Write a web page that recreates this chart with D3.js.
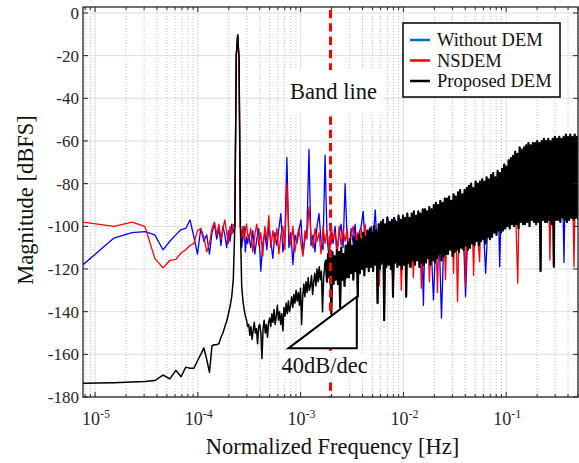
<!DOCTYPE html>
<html>
<head>
<meta charset="utf-8">
<script src="https://cdn.jsdelivr.net/npm/d3@7"></script>
<style>
  body { margin: 0; background: #fff; }
  svg { display: block; }
  text { font-family: "Liberation Serif", "Times New Roman", serif; fill: #262626; }
</style>
</head>
<body>
<div id="chart"></div>
<script>
// ---------- data ----------
const fftLength = 131072;          // bins -> normalized frequency
const bandEdge = 0.001953;         // signal band edge [Hz]
const seriesNames = ["Without DEM", "NSDEM", "Proposed DEM"];

// per-bin values, bins 1..40 (dBFS)
const blueLow = [-118, -105.5, -103, -102.5, -104, -111, -107, -104, -101.5, -101,
  -97, -105, -113, -101, -107, -104, -113, -103, -99, -106,
  -101, -109, -100, -104, -110, -102, -107, -99, -103, -100,
  -20, -10.3, -22, -100, -110, -104, -100, -112, -105, -108];
const redLow = [-98, -100, -98, -100, -115, -119.5, -116, -115.5, -112.5, -111,
  -109, -108, -102, -101, -105, -112, -108, -101, -98, -104,
  -99, -106, -101, -97, -103, -108, -100, -104, -99, -100,
  -20, -10.3, -22, -100, -105, -100, -107, -102, -99, -104];
const blackLow = [-173.6, -173.3, -173, -172.7, -172.3, -169.7, -171.5, -167.5, -170.5, -166,
  -166.5, -166.5, -163, -160, -157, -162.5, -168.5, -156, -155.5, -155.5,
  -155, -152, -150, -147, -144.5, -141, -137.5, -133, -125, -100,
  -20, -10.3, -22, -100, -128, -135, -139, -142, -144, -147];

// values read on a log-spaced frequency grid from bin 41 up to 0.5 (dBFS)
const blueHigh = [-104, -110, -102, -113, -106, -101, -121, -108, -103, -111,
  -100, -107, -115, -103, -109, -101, -94, -112, -105, -67.7,
  -110, -103, -118, -104, -108, -102, -97, -113, -106, -101,
  -64, -109, -104, -112, -100, -94, -107, -111, -66.6, -105,
  -115, -103, -108, -100, -112, -104, -99, -110, -80, -106,
  -113, -101, -108, -99, -114, -103, -100, -93, -109, -102,
  -116, -100, -106, -92.3, -111, -101, -118, -99, -107, -95.5,
  -112, -100, -119, -97, -110, -96, -121, -98, -114, -97,
  -98, -114, -97, -113, -98, -114, -96, -137, -92, -113,
  -95, -112, -134.5, -111, -94, -110, -143, -111, -93, -110,
  -91, -109, -90, -108, -89, -108, -88, -106, -133, -105,
  -85, -104, -84, -104, -83, -103, -82, -102, -122, -101,
  -80, -100, -79, -99, -78, -119, -77, -98, -75, -97,
  -73, -96, -71, -95, -69, -95, -67, -94, -66, -94,
  -64, -94, -64, -93, -64, -94, -63, -93, -63, -94,
  -62, -93, -62, -93, -61, -92, -62, -117, -61, -93,
  -61, -93, -60, -92, -61];
const redHigh = [-106, -101, -112, -104, -99, -109, -103, -114, -100, -107,
  -95, -110, -102, -108, -101, -113, -104, -100, -111, -80,
  -103, -109, -100, -112, -105, -101, -108, -114, -102, -106,
  -90.8, -104, -110, -101, -107, -103, -113, -100, -108, -102,
  -111, -99, -106, -103, -114, -100, -109, -102, -107, -101,
  -112, -104, -100, -110, -103, -116, -101, -108, -99, -111,
  -102, -114, -100, -107, -104, -128, -99, -112, -101, -109,
  -98, -115, -128, -99, -117, -97, -130, -98, -118, -96,
  -119, -98, -124, -97, -114, -98, -129, -96, -113, -97,
  -126, -95, -112, -94, -131, -93, -111, -94, -125, -92,
  -109, -90, -122, -89, -135.3, -88, -108, -87, -128, -86,
  -106, -84, -123, -83, -104, -116.6, -82, -103, -81, -102,
  -79, -101, -78, -100, -75, -99, -76, -98, -75, -97,
  -72, -96, -70, -95, -126.7, -67, -94, -66, -94, -65,
  -94, -64, -93, -64, -94, -63, -93, -63, -94, -62,
  -115.8, -62, -93, -61, -92, -62, -93, -61, -93, -61,
  -92, -60, -119, -60, -93];
const blackHigh = [-146, -151, -147, -153, -149, -145, -150, -148, -155, -147,
  -146, -150, -162, -148, -144, -150, -146, -152, -145, -143,
  -147, -141, -145, -139, -146, -142, -137, -144, -140, -146,
  -141, -149, -138, -142, -136, -141, -135, -140, -137, -133,
  -138, -132, -136, -130, -135, -131, -137, -129, -146, -133,
  -127, -133, -126, -131, -124, -130, -128, -123, -132, -126,
  -122, -128, -120, -126, -119, -125, -121, -140, -124, -119,
  -116, -126, -113, -124, -115, -141, -112, -127, -114, -125,
  -111, -127, -112, -138, -110, -125, -113, -128, -109, -124,
  -108, -124, -106, -122, -109, -125, -105, -121, -107, -133,
  -104, -122, -106, -120, -103, -123, -105, -119, -102, -121,
  -101, -119, -103, -121, -100, -118, -102, -136, -99, -120,
  -98, -117, -97, -144, -99, -119, -96, -118, -98, -120,
  -97, -133, -96, -117, -98, -119, -95, -118, -97, -120,
  -95, -118, -96, -133, -94, -117, -96, -119, -94, -116,
  -93, -118, -95, -116, -93, -119, -94, -117, -92, -118,
  -92, -117, -93, -115, -91, -118, -92, -116, -90, -117,
  -89, -115, -90, -113, -88, -116, -89, -114, -87, -113,
  -87, -113, -86, -111, -88, -114, -85, -112, -86, -111,
  -84, -112, -83, -110, -85, -111, -83, -109, -82, -111,
  -81, -110, -80, -108, -82, -109, -79, -107, -80, -109,
  -79, -107, -78, -106, -79, -108, -77, -105, -78, -106,
  -76, -105, -75, -103, -77, -104, -74, -102, -75, -103,
  -73, -102, -71, -101, -72, -100, -69, -101, -68, -99,
  -67, -100, -65, -99, -66, -101, -63, -98, -64, -99,
  -63, -99, -62, -98, -61, -100, -62, -97, -61, -98,
  -61, -99, -60, -98, -61, -121, -60, -97, -59, -98,
  -60, -98, -59, -97, -60, -99, -59, -119, -58, -97,
  -59, -97, -58, -98, -59, -96, -58, -97, -57, -98,
  -58, -97, -57, -96, -58, -97, -57, -96, -58, -97];

const xTicks = [1e-5, 1e-4, 1e-3, 1e-2, 1e-1];
const xTickExp = ["-5", "-4", "-3", "-2", "-1"];
const yTicks = [0, -20, -40, -60, -80, -100, -120, -140, -160, -180];

// 40 dB/dec slope triangle (Hz, dBFS)
const slopeHz = [7.6e-4, 3.52e-3];
const slopeDb = [-157.2, -133];

// ---------- layout ----------
const W = 579, H = 463;
const margin = {top: 7, right: 1, bottom: 66, left: 83};
const width = W - margin.left - margin.right,
      height = H - margin.top - margin.bottom;

const svg = d3.select("#chart").append("svg")
    .attr("width", W).attr("height", H);
const g = svg.append("g")
    .attr("transform", `translate(${margin.left}, ${margin.top})`);

const x = d3.scaleLog().domain([1 / fftLength, 0.5]).range([0, width]);
const y = d3.scaleLinear().domain([-180, 2.8]).range([height, 0]);

// grid
const minor = x.ticks().filter(v => !xTicks.some(t => Math.abs(t - v) / t < 1e-6));
g.append("g").selectAll("line").data(minor).join("line")
    .attr("x1", d => x(d)).attr("x2", d => x(d))
    .attr("y1", 0).attr("y2", height)
    .attr("stroke", "#bdbdbd").attr("stroke-width", 1)
    .attr("stroke-dasharray", "1,2");
g.append("g").selectAll("line").data(xTicks).join("line")
    .attr("x1", d => x(d)).attr("x2", d => x(d))
    .attr("y1", 0).attr("y2", height)
    .attr("stroke", "#dedede").attr("stroke-width", 1);
g.append("g").selectAll("line").data(yTicks).join("line")
    .attr("x1", 0).attr("x2", width)
    .attr("y1", d => y(d)).attr("y2", d => y(d))
    .attr("stroke", "#dedede").attr("stroke-width", 1);

// series
function toPoints(low, high) {
    let pts = low.map((v, i) => [(i + 1) / fftLength, v]);
    let f0 = (low.length + 1) / fftLength;
    let step = Math.log10(0.5 / f0) / (high.length - 1);
    high.forEach((v, j) => pts.push([f0 * Math.pow(10, step * j), v]));
    return pts;
}

svg.append("clipPath").attr("id", "plotClip")
    .append("rect").attr("width", width).attr("height", height);

const line = d3.line().x(d => x(d[0])).y(d => y(d[1]));
const blackPts = toPoints(blackLow, blackHigh);
const series = [
    {name: seriesNames[0], color: "#0000ff", w: 1.3, pts: toPoints(blueLow, blueHigh)},
    {name: seriesNames[1], color: "#ff0000", w: 1.3, pts: toPoints(redLow, redHigh)},
    {name: seriesNames[2], color: "#000000", w: 1.5, pts: blackPts},
    // dense out-of-band part of the black trace, stroked heavier so it reads as solid
    {name: seriesNames[2], color: "#000000", w: 2.1, pts: blackPts.filter(d => d[0] > 1.7e-3)}
];
g.append("g").attr("clip-path", "url(#plotClip)")
    .selectAll("path").data(series).join("path")
    .attr("d", d => line(d.pts))
    .attr("fill", "none")
    .attr("stroke", d => d.color)
    .attr("stroke-width", d => d.w)
    .attr("stroke-linejoin", "round");

// band line
g.append("line")
    .attr("x1", x(bandEdge)).attr("x2", x(bandEdge))
    .attr("y1", 3).attr("y2", height)
    .attr("stroke", "#ff0000").attr("stroke-width", 3)
    .attr("stroke-dasharray", "8.3,5");

g.append("rect")
    .attr("x", x(bandEdge) - 45).attr("y", 63)
    .attr("width", 97).attr("height", 44)
    .attr("fill", "#fff");
g.append("text")
    .attr("x", x(bandEdge) + 3).attr("y", y(-40.3))
    .attr("text-anchor", "middle")
    .style("font-size", "22.5px").style("fill", "#111")
    .text("Band line");

// slope triangle
g.append("polygon")
    .attr("points", [[slopeHz[0], slopeDb[0]], [slopeHz[1], slopeDb[0]], [slopeHz[1], slopeDb[1]]]
        .map(p => x(p[0]) + "," + y(p[1])).join(" "))
    .attr("fill", "#fff").attr("stroke", "#000").attr("stroke-width", 2);

let triMid = (x(slopeHz[0]) + x(slopeHz[1])) / 2;
g.append("rect")
    .attr("x", triMid - 44).attr("y", y(-168.75) - 20)
    .attr("width", 92).attr("height", 25)
    .attr("fill", "#fff");
g.append("text")
    .attr("x", triMid + 2).attr("y", y(-168.75))
    .attr("text-anchor", "middle")
    .style("font-size", "22.5px").style("fill", "#111")
    .text("40dB/dec");

// frame and ticks (inside, all four sides)
g.append("rect").attr("width", width).attr("height", height)
    .attr("fill", "none").attr("stroke", "#262626").attr("stroke-width", 1.3);

const tickG = g.append("g").attr("stroke", "#262626").attr("stroke-width", 1);
minor.concat(xTicks).forEach(function(v) {
    let len = xTicks.includes(v) ? 5 : 3;
    tickG.append("line").attr("x1", x(v)).attr("x2", x(v)).attr("y1", height).attr("y2", height - len);
    tickG.append("line").attr("x1", x(v)).attr("x2", x(v)).attr("y1", 0).attr("y2", len);
});
yTicks.forEach(function(v) {
    tickG.append("line").attr("x1", 0).attr("x2", 5).attr("y1", y(v)).attr("y2", y(v));
    tickG.append("line").attr("x1", width).attr("x2", width - 5).attr("y1", y(v)).attr("y2", y(v));
});

// tick labels
g.append("g").selectAll("text").data(yTicks).join("text")
    .attr("x", -4).attr("y", d => y(d))
    .attr("dy", "0.35em")
    .attr("text-anchor", "end")
    .style("font-size", "17px")
    .text(d => d);

const xl = g.append("g").selectAll("text").data(xTicks).join("text")
    .attr("x", d => x(d) + 1).attr("y", height + 28)
    .attr("text-anchor", "middle")
    .style("font-size", "18px");
xl.append("tspan").text("10");
xl.append("tspan").attr("dy", -7).style("font-size", "12px")
    .text((d, i) => xTickExp[i]);

// axis titles
g.append("text")
    .attr("x", width / 2 + 2).attr("y", height + 57)
    .attr("text-anchor", "middle")
    .style("font-size", "22.5px").style("fill", "#111")
    .text("Normalized Frequency [Hz]");
svg.append("text")
    .attr("transform", `translate(33, ${margin.top + height / 2 - 2}) rotate(-90)`)
    .attr("text-anchor", "middle")
    .style("font-size", "22.5px").style("fill", "#111")
    .text("Magnitude [dBFS]");

// legend
const legend = svg.append("g").attr("transform", "translate(403, 23)");
legend.append("rect").attr("width", 157).attr("height", 74)
    .attr("fill", "#fff").attr("stroke", "#000").attr("stroke-width", 1.5);
const legendColors = ["#0072bd", "#ff0000", "#000000"];
const rows = legend.selectAll("g.row").data(seriesNames).join("g")
    .attr("class", "row")
    .attr("transform", (d, i) => `translate(0, ${17 + i * 20.5})`);
rows.append("line").attr("x1", 7).attr("x2", 27)
    .attr("stroke", (d, i) => legendColors[i]).attr("stroke-width", 2.5);
rows.append("text").attr("x", 34).attr("dy", "0.35em")
    .style("font-size", "18.5px").style("fill", "#111")
    .text(d => d);
</script>
</body>
</html>
